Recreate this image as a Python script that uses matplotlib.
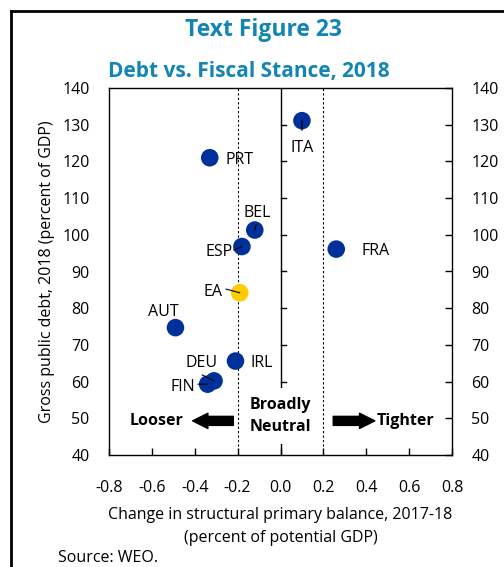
import matplotlib.pyplot as plt
from matplotlib.lines import Line2D

plt.rcParams['font.family'] = ['Open Sans', 'DejaVu Sans']

# data: change in structural primary balance vs gross public debt
countries = ['ITA', 'PRT', 'BEL', 'ESP', 'FRA', 'EA', 'AUT', 'IRL', 'DEU', 'FIN']
balance = [0.10, -0.33, -0.12, -0.18, 0.26, -0.19, -0.49, -0.21, -0.31, -0.34]
debt = [131.1, 121.0, 101.3, 96.8, 96.1, 84.2, 74.7, 65.6, 60.2, 59.3]
colors = ['#00309a'] * 5 + ['#ffcc00'] + ['#00309a'] * 4

x_ticks = [-0.8, -0.6, -0.4, -0.2, 0.0, 0.2, 0.4, 0.6, 0.8]
y_ticks = [40, 50, 60, 70, 80, 90, 100, 110, 120, 130, 140]

# label offset (points), alignment, leader line start (points) or None
label_pos = {
    'ITA': ((0, -19.5), 'center', (0, -7)),
    'PRT': ((11, -1.5), 'left', None),
    'BEL': ((2, 12.5), 'center', (1, 4)),
    'ESP': ((-6.5, -3.6), 'right', (-6, -2.5)),
    'FRA': ((18, -1.5), 'left', None),
    'EA': ((-12.5, 0.7), 'right', (-10, 2.7)),
    'AUT': ((-8.6, 11.5), 'center', None),
    'IRL': ((11, -1.5), 'left', None),
    'DEU': ((-9, 12.7), 'center', (-8.6, 4.3)),
    'FIN': ((-9, -2), 'right', (-7, 0)),
}

title_color = '#1385b5'

fig = plt.figure(figsize=(5.04, 5.67), dpi=100)
ax = fig.add_axes([109 / 504, 1 - 455 / 567, 343 / 504, 367 / 567])

ax.set_xlim(-0.8, 0.8)
ax.set_ylim(40, 140)
ax.set_xticks(x_ticks)
ax.set_xticklabels(['%.1f' % v for v in x_ticks])
ax.set_yticks(y_ticks)
ax.tick_params(axis='x', direction='in', length=5, labelsize=11.5, pad=18, width=1)
ax.tick_params(axis='y', left=False, right=True, labelleft=True, labelright=True,
               direction='in', length=5, labelsize=11.5, pad=14, width=1)
for s in ax.spines.values():
    s.set_linewidth(1)

# y axis crossing at zero with ticks to the right
ax.axvline(0, color='black', lw=1, zorder=1)
for y in y_ticks[1:-1]:
    ax.plot([0, 0.025], [y, y], color='black', lw=1, zorder=1)

# neutral band
ax.axvline(-0.2, color='black', lw=0.8, ls=(0, (2, 2)), zorder=1)
ax.axvline(0.2, color='black', lw=0.8, ls=(0, (2, 2)), zorder=1)

ax.scatter(balance, debt, s=160, c=colors, zorder=3, linewidths=0)

for name, x, y in zip(countries, balance, debt):
    (dx, dy), ha, leader = label_pos[name]
    ax.annotate(name, (x, y), xytext=(dx, dy), textcoords='offset points',
                ha=ha, va='center', fontsize=11.5, zorder=5)
    if leader:
        ax.annotate('', (x, y), xytext=leader, textcoords='offset points',
                    arrowprops=dict(arrowstyle='-', color='black', lw=0.8,
                                    shrinkA=0, shrinkB=0), zorder=4)

ax.text(0, 50.6, 'Broadly\nNeutral', ha='center', va='center', fontsize=11.5,
        fontweight='bold', linespacing=1.5, zorder=4,
        bbox=dict(facecolor='white', edgecolor='none', pad=6.5))
ax.text(-0.576, 49.2, 'Looser', ha='center', va='center', fontsize=11.5, fontweight='bold')
ax.text(0.585, 49.2, 'Tighter', ha='center', va='center', fontsize=11.5, fontweight='bold')
arrow_style = dict(arrowstyle='simple,head_width=1.1,head_length=1.1,tail_width=0.65',
                   color='black', shrinkA=0, shrinkB=0)
ax.annotate('', xy=(-0.41, 49.3), xytext=(-0.22, 49.3), arrowprops=arrow_style)
ax.annotate('', xy=(0.44, 49.3), xytext=(0.246, 49.3), arrowprops=arrow_style)

ax.set_ylabel('Gross public debt, 2018 (percent of GDP)', fontsize=11.5, labelpad=5)
ax.set_xlabel('Change in structural primary balance, 2017-18\n(percent of potential GDP)',
              fontsize=11.5, labelpad=8, linespacing=1.55)

fig.text(263 / 504, 1 - 30 / 567, 'Text Figure 23', ha='center', va='center',
         fontsize=16.5, fontweight='bold', color=title_color)
fig.text(249 / 504, 1 - 72 / 567, 'Debt vs. Fiscal Stance, 2018', ha='center', va='center',
         fontsize=15, fontweight='bold', color=title_color)
fig.text(58 / 504, 1 - 558 / 567, 'Source: WEO.', ha='left', va='center', fontsize=11.5)

# page frame
fig.add_artist(Line2D([11 / 504, 11 / 504], [0, 1 - 11 / 567], color='black', lw=2))
fig.add_artist(Line2D([11 / 504, 1], [1 - 11 / 567, 1 - 11 / 567], color='black', lw=2))

fig.savefig('out.png', dpi=100)
